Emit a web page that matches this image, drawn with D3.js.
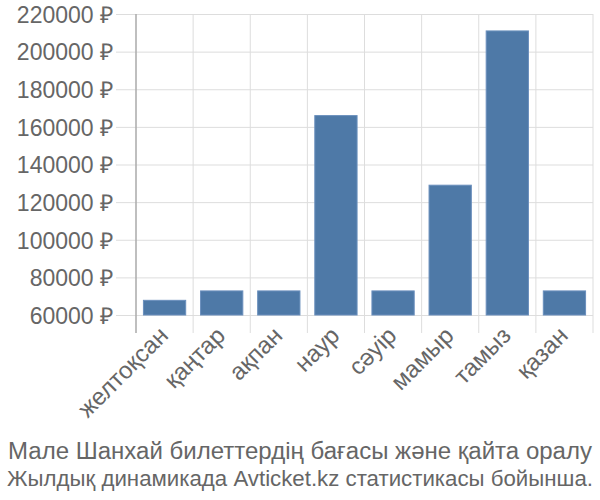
<!DOCTYPE html>
<html><head><meta charset="utf-8">
<script src="https://cdn.jsdelivr.net/npm/d3@7"></script>
<style>body{margin:0;background:#fff}svg{display:block}text{font-family:"Liberation Sans",Arial,sans-serif}</style>
</head><body><svg id="c" width="600" height="500"></svg>
<script>
const categories = ["желтоқсан","қаңтар","ақпан","наур","сәуір","мамыр","тамыз","қазан"];
const values = [67800, 72800, 72800, 166000, 72800, 129000, 211000, 72800];
const yTicks = [60000, 80000, 100000, 120000, 140000, 160000, 180000, 200000, 220000];
const titleLines = ["Мале Шанхай билеттердің бағасы және қайта оралу","Жылдық динамикада Avticket.kz статистикасы бойынша."];

const svg = d3.select("#c");
const m = {left:136, right:593, top:14, bottom:333};
const x = d3.scaleBand().domain(categories).range([m.left, m.right]).paddingInner(0.26).paddingOuter(0.13);
const y = d3.scaleLinear().domain([60000, 220000]).range([315, m.top]);
const fs = 23;
const txt = "#666";

const yAxis = d3.axisLeft(y).tickValues(yTicks).tickSize(-(m.right - m.left) - 20).tickPadding(3).tickFormat(d => d + " ₽");
const gy = svg.append("g").attr("transform", `translate(${m.left},0)`).call(yAxis);
gy.select(".domain").remove();
gy.selectAll(".tick line").attr("stroke", "#ddd").attr("x1", -20).attr("x2", m.right - m.left).attr("stroke-width", 1);
gy.selectAll(".tick text").attr("fill", txt).attr("font-size", fs).attr("x", -23).attr("dy", "0.36em");

const step = x.step();
const bounds = d3.range(categories.length + 1).map(i => m.left + i * step);
svg.append("g").selectAll("line").data(bounds).join("line")
  .attr("x1", d => d).attr("x2", d => d).attr("y1", m.top).attr("y2", m.bottom)
  .attr("stroke", (d, i) => i === 0 ? "#aaa" : "#ddd").attr("stroke-width", (d, i) => i === 0 ? 1.5 : 1);

svg.append("g").selectAll("rect").data(values).join("rect")
  .attr("x", (d, i) => x(categories[i])).attr("width", x.bandwidth())
  .attr("y", d => y(d)).attr("height", d => y(60000) - y(d))
  .attr("fill", "#4e79a7").attr("stroke", "#6a8fbd").attr("stroke-width", 1);

svg.append("g").selectAll("text").data(categories).join("text")
  .attr("transform", d => `translate(${x(d) + x.bandwidth() / 2 + 5},${m.bottom + 4}) rotate(-45)`)
  .attr("text-anchor", "end").attr("font-size", 24).attr("fill", txt).text(d => d);

svg.append("g").selectAll("text").data(titleLines).join("text")
  .attr("x", 300).attr("y", (d, i) => 459 + i * 27).attr("text-anchor", "middle")
  .attr("font-size", (d, i) => i === 0 ? 23 : 22).attr("fill", txt)
  .attr("textLength", (d, i) => i === 0 ? 584 : 586).attr("lengthAdjust", "spacingAndGlyphs").text(d => d);
</script></body></html>
